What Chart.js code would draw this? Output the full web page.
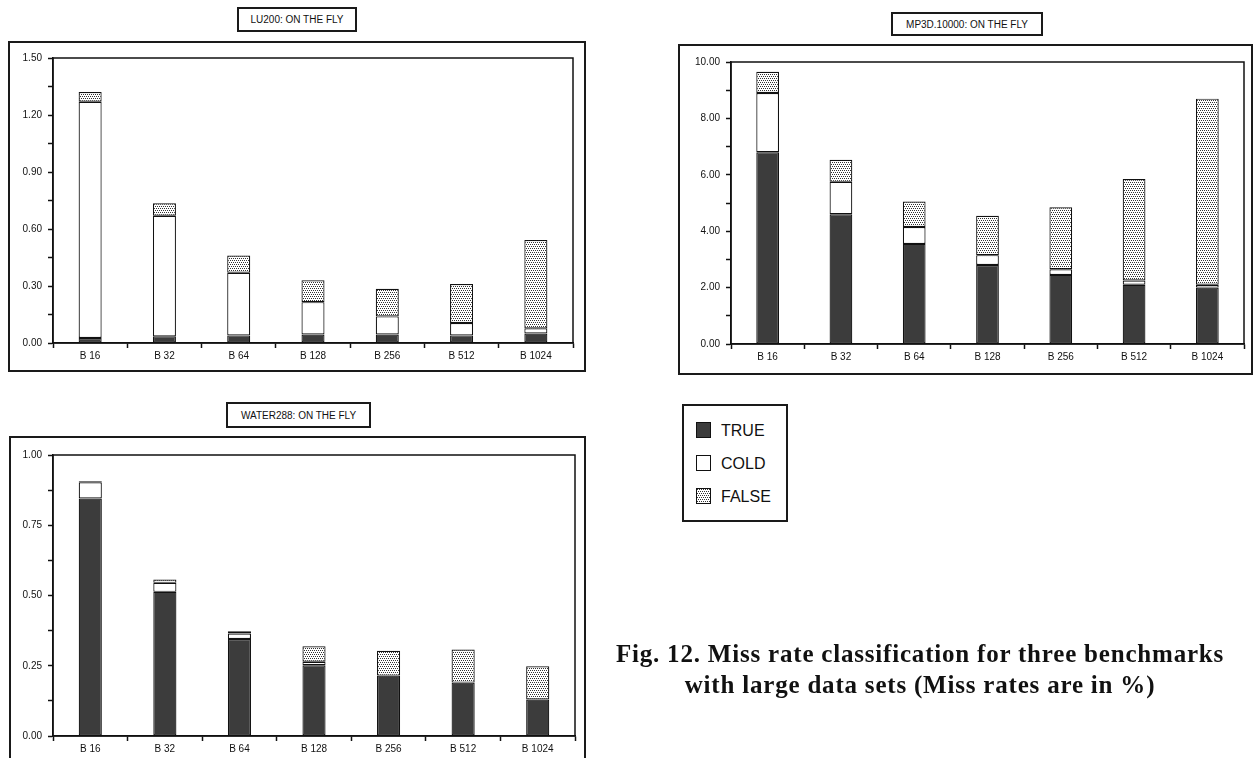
<!DOCTYPE html>
<html>
<head>
<meta charset="utf-8">
<script src="https://cdn.jsdelivr.net/npm/chart.js@4"></script>
<style>
  body { margin: 0; background: #fff; width: 1254px; height: 758px; position: relative; overflow: hidden; font-family: "Liberation Sans", Arial, sans-serif; }
  .frame { position: absolute; border: 2px solid #1a1a1a; box-sizing: border-box; }
  .titlebox { position: absolute; border: 2px solid #1a1a1a; box-sizing: border-box; font-size: 10px; color: #111; text-align: center; display: flex; align-items: center; justify-content: center; }
  .chartbox { position: absolute; }
  #legend { position: absolute; left: 682px; top: 404px; width: 106px; height: 118px; border: 2px solid #1a1a1a; box-sizing: border-box; }
  .item { position: absolute; left: 12px; font-size: 16px; color: #111; height: 17px; line-height: 17px; }
  .swatch { position: absolute; left: 0; top: 0; width: 15px; height: 16px; box-sizing: border-box; border: 1.5px solid #111; }
  .item span.lbl { position: absolute; left: 25px; top: 0; white-space: nowrap; }
  #caption { position: absolute; left: 580px; top: 638px; width: 680px; text-align: center; font-family: "Liberation Serif", "Times New Roman", serif; font-weight: bold; font-size: 25px; letter-spacing: 0.8px; line-height: 31px; color: #111; }
</style>
</head>
<body>

<div class="titlebox" style="left:237px;top:7px;width:120px;height:25px;">LU200: ON THE FLY</div>
<div class="frame" style="left:8px;top:41px;width:578px;height:331px;"></div>
<div class="chartbox" style="left:9px;top:42px;width:575px;height:328px;"><canvas id="luChart"></canvas></div>

<div class="titlebox" style="left:891px;top:12px;width:152px;height:24px;">MP3D.10000: ON THE FLY</div>
<div class="frame" style="left:678px;top:44px;width:575px;height:331px;"></div>
<div class="chartbox" style="left:680px;top:46px;width:571px;height:327px;"><canvas id="mpChart"></canvas></div>

<div class="titlebox" style="left:226px;top:402px;width:145px;height:26px;">WATER288: ON THE FLY</div>
<div class="frame" style="left:9px;top:436px;width:577px;height:340px;"></div>
<div class="chartbox" style="left:10px;top:438px;width:574px;height:320px;"><canvas id="wtChart"></canvas></div>

<div id="legend"></div>

<div id="caption">Fig. 12. Miss rate classification for three benchmarks<br>with large data sets (Miss rates are in %)</div>

<script>
const categories = ['B 16', 'B 32', 'B 64', 'B 128', 'B 256', 'B 512', 'B 1024'];
const seriesNames = ['TRUE', 'COLD', 'FALSE'];

// LU200
const luTrue = [0.026, 0.035, 0.04, 0.045, 0.045, 0.04, 0.05];
const luCold = [1.244, 0.635, 0.33, 0.17, 0.095, 0.065, 0.027];
const luFalse = [0.051, 0.065, 0.09, 0.115, 0.145, 0.205, 0.465];
const luTicks = [0, 0.30, 0.60, 0.90, 1.20, 1.50];

// MP3D.10000
const mpTrue = [6.8, 4.6, 3.55, 2.8, 2.45, 2.1, 2.0];
const mpCold = [2.1, 1.15, 0.6, 0.35, 0.2, 0.15, 0.1];
const mpFalse = [0.75, 0.78, 0.9, 1.4, 2.2, 3.6, 6.6];
const mpTicks = [0, 2, 4, 6, 8, 10];

// WATER288
const wtTrue = [0.845, 0.513, 0.345, 0.252, 0.215, 0.19, 0.13];
const wtCold = [0.058, 0.032, 0.02, 0.012, 0, 0, 0];
const wtFalse = [0.004, 0.012, 0.008, 0.055, 0.088, 0.118, 0.118];
const wtTicks = [0, 0.25, 0.50, 0.75, 1.00];

const darkFill = '#3c3c3c';
const edge = '#111';

// stipple pattern for FALSE
const tile = document.createElement('canvas');
tile.width = 4;
tile.height = 4;
const tctx = tile.getContext('2d');
tctx.fillStyle = '#fff';
tctx.fillRect(0, 0, 4, 4);
tctx.fillStyle = '#333';
tctx.fillRect(0, 0, 1, 1);
tctx.fillRect(2, 0, 1, 1);
tctx.fillRect(1, 2, 1, 1);
tctx.fillRect(3, 2, 1, 1);
const dotPattern = tctx.createPattern(tile, 'repeat');

const fills = [darkFill, '#ffffff', dotPattern];

// outline of the plot area (top + right side as well)
const plotFrame = {
    id: 'plotFrame',
    afterDraw(chart) {
        const a = chart.chartArea;
        const ctx = chart.ctx;
        ctx.save();
        ctx.strokeStyle = edge;
        ctx.lineWidth = 1.5;
        ctx.strokeRect(a.left, a.top, a.right - a.left, a.bottom - a.top);
        ctx.restore();
    }
};

function makeChart(id, values, majors, pad) {
    const canvas = document.getElementById(id);
    const ctx = canvas.getContext('2d');
    const step = majors[1] - majors[0];

    return new Chart(ctx, {
        type: 'bar',
        data: {
            labels: categories,
            datasets: values.map((v, i) => ({
                label: seriesNames[i],
                data: v,
                backgroundColor: fills[i],
                borderColor: edge,
                borderWidth: 1.2,
                borderSkipped: false,
                barPercentage: 0.31,
                categoryPercentage: 1
            }))
        },
        options: {
            responsive: true,
            maintainAspectRatio: false,
            animation: false,
            layout: {
                padding: { left: 0, top: pad.top, right: pad.right, bottom: 0 }
            },
            plugins: {
                legend: { display: false },
                tooltip: { enabled: false }
            },
            scales: {
                x: {
                    stacked: true,
                    afterFit: s => { s.height = pad.xh; },
                    grid: {
                        offset: true,
                        drawOnChartArea: false,
                        tickLength: 5,
                        tickColor: edge,
                        tickWidth: 1.5
                    },
                    border: { color: edge, width: 1.5 },
                    ticks: {
                        color: '#111',
                        padding: 2,
                        font: { family: 'Liberation Sans', size: 10 }
                    }
                },
                y: {
                    stacked: true,
                    min: majors[0],
                    max: majors[majors.length - 1],
                    afterFit: s => { s.width = pad.yw; },
                    afterBuildTicks: s => {
                        const t = [];
                        majors.forEach((m, i) => {
                            t.push({ value: m });
                            if (i < majors.length - 1) t.push({ value: m + step / 2 });
                        });
                        s.ticks = t;
                    },
                    grid: {
                        drawOnChartArea: false,
                        tickLength: 5,
                        tickColor: edge,
                        tickWidth: 1.5
                    },
                    border: { color: edge, width: 1.5 },
                    ticks: {
                        color: '#111',
                        padding: 6,
                        font: { family: 'Liberation Sans', size: 10 },
                        callback: function (value, index) {
                            return index % 2 === 0 ? Number(value).toFixed(2) : '';
                        }
                    }
                }
            }
        },
        plugins: [plotFrame]
    });
}

makeChart('luChart', [luTrue, luCold, luFalse], luTicks, { top: 16, right: 11, xh: 27, yw: 44 });
makeChart('mpChart', [mpTrue, mpCold, mpFalse], mpTicks, { top: 16, right: 7, xh: 29, yw: 51 });
makeChart('wtChart', [wtTrue, wtCold, wtFalse], wtTicks, { top: 17, right: 9, xh: 22, yw: 43 });

// legend box
const legend = document.getElementById('legend');
const swatchCss = [
    'background:' + darkFill,
    'background:#fff',
    'background:#fff url(' + tile.toDataURL() + ') repeat'
];
seriesNames.forEach((name, i) => {
    const item = document.createElement('div');
    item.className = 'item';
    item.style.top = (16 + i * 33) + 'px';
    item.innerHTML = '<div class="swatch" style="' + swatchCss[i] + '"></div><span class="lbl">' + name + '</span>';
    legend.appendChild(item);
});
</script>
</body>
</html>
